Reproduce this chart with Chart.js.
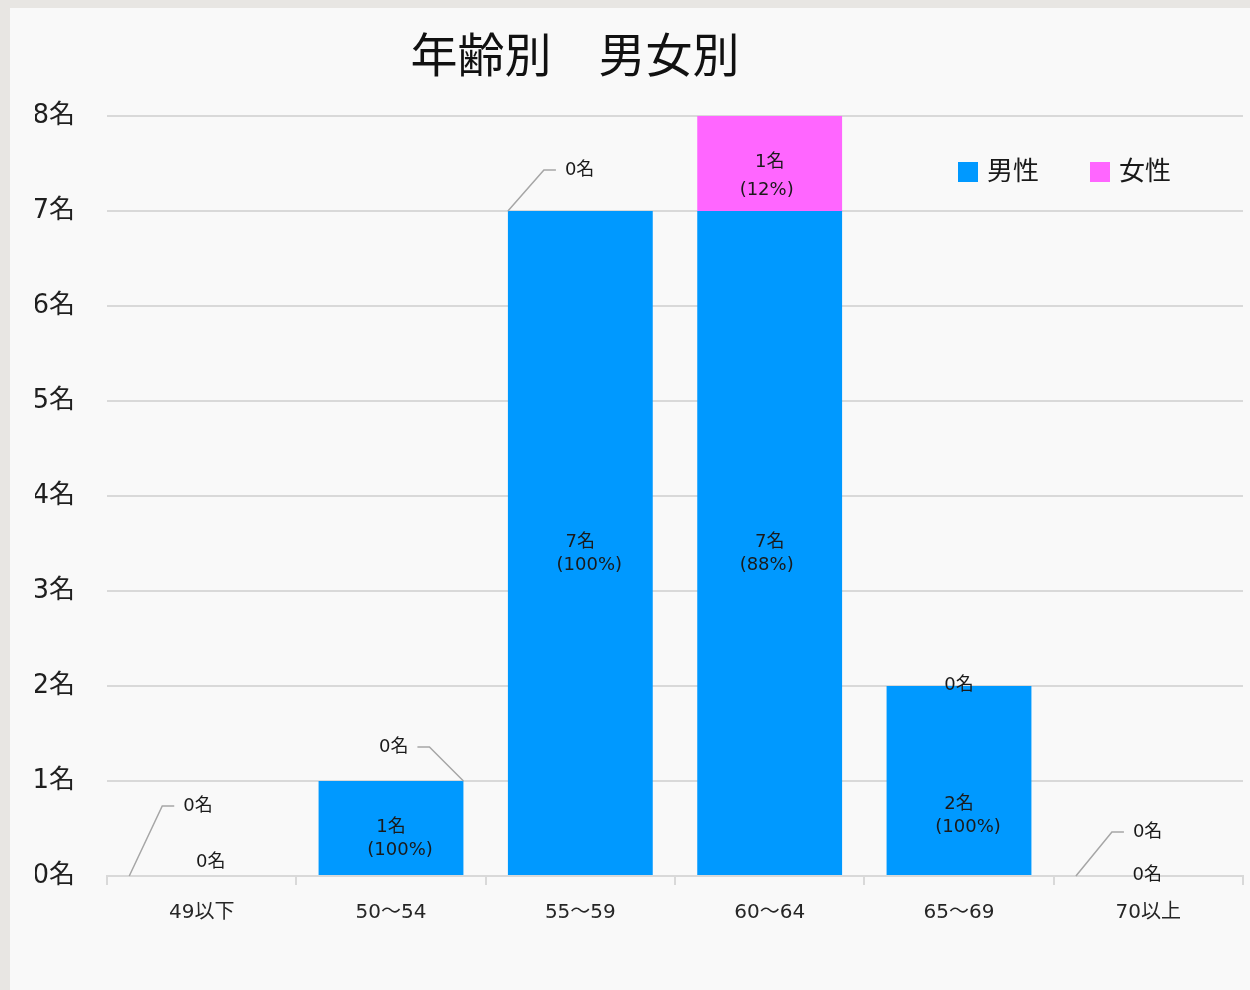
<!DOCTYPE html>
<html><head><meta charset="utf-8">
<script src="https://cdn.jsdelivr.net/npm/chart.js@4"></script>
<style>
html,body{margin:0;padding:0;width:1250px;height:990px;overflow:hidden;background:#e8e6e3;}
#card{position:absolute;left:10px;top:8px;width:1240px;height:982px;background:#f9f9f9;}
canvas{display:block;}
</style></head><body>
<div id="card"><canvas id="c" width="1240" height="982"></canvas></div>
<script>
// ---- data ----
const chartTitle = '年齢別　男女別';
const categories = ['49以下', '50～54', '55～59', '60～64', '65～69', '70以上'];
const seriesNames = ['男性', '女性'];
const maleValues = [0, 1, 7, 7, 2, 0];
const femaleValues = [0, 0, 0, 1, 0, 0];
const malePercent = [null, 100, 100, 88, 100, null];
const femalePercent = [null, null, null, 12, null, null];
const yTickValues = [0, 1, 2, 3, 4, 5, 6, 7, 8];
const unit = '名';

// ---- styles / label placement ----
const FONT = "'DejaVu Sans', 'Noto Sans CJK JP', sans-serif";
const TITLE_FONT = "'Noto Sans CJK JP', sans-serif";
const COLORS = { male: '#0099ff', female: '#ff66ff', grid: '#d9d9d9', text: '#1a1a1a', leader: '#a6a6a6' };
// placement of labels for zero values (offsets from bar corner/center)
const zeroPlacement = [
  [{ dx: 9, dy: -14 }, { anchor: 'left', dx: 33, dy: -70 }],
  [null, { anchor: 'right', dx: -34, dy: -34 }],
  [null, { anchor: 'left', dx: 36, dy: -41 }],
  [null, null],
  [null, { dx: 0, dy: -1 }],
  [{ dx: -1, dy: -1 }, { anchor: 'left', dx: 36, dy: -44 }]
];
const valueLabelNudge = [0, 0, 0, 0, 25, 0];

const labelPlugin = {
  id: 'valueLabels',
  afterDatasetsDraw(chart) {
    const ctx = chart.ctx;
    const values = [maleValues, femaleValues];
    const pcts = [malePercent, femalePercent];
    ctx.save();
    ctx.font = '18px ' + FONT;
    ctx.fillStyle = COLORS.text;
    ctx.textBaseline = 'middle';
    for (let d = 0; d < 2; d++) {
      const meta = chart.getDatasetMeta(d);
      meta.data.forEach((bar, i) => {
        const v = values[d][i];
        const txt = v + unit;
        if (v > 0) {
          const cy = (bar.y + bar.base) / 2 + (d === 0 ? valueLabelNudge[i] : 0);
          ctx.textAlign = 'center';
          ctx.fillText(txt, bar.x, cy - 1);
          const p = pcts[d][i];
          if (p !== null) ctx.fillText('(' + p + '%)', bar.x + (p === 100 ? 9 : -3), cy + (d === 1 ? 27 : 22));
        } else {
          const pl = zeroPlacement[i][d];
          if (!pl) return;
          if (pl.anchor) {
            const sx = pl.anchor === 'left' ? bar.x - bar.width / 2 : bar.x + bar.width / 2;
            const sy = bar.y;
            const ex = sx + pl.dx, ey = sy + pl.dy;
            const dir = pl.dx > 0 ? 1 : -1;
            const hx = ex + dir * 12;
            ctx.strokeStyle = COLORS.leader;
            ctx.lineWidth = 1.5;
            ctx.beginPath();
            ctx.moveTo(sx, sy); ctx.lineTo(ex, ey); ctx.lineTo(hx, ey);
            ctx.stroke();
            ctx.textAlign = dir > 0 ? 'left' : 'right';
            ctx.fillText(txt, hx + dir * 9, ey);
          } else {
            ctx.textAlign = 'center';
            ctx.fillText(txt, bar.x + pl.dx, bar.y + pl.dy);
          }
        }
      });
    }
    ctx.restore();
  }
};

const titleLegendPlugin = {
  id: 'titleLegend',
  afterDraw(chart) {
    const ctx = chart.ctx;
    ctx.save();
    ctx.font = '47px ' + TITLE_FONT;
    ctx.fillStyle = '#111111';
    ctx.textAlign = 'center';
    ctx.textBaseline = 'middle';
    ctx.fillText(chartTitle, 565, 46);
    // legend
    const items = chart.data.datasets.map(ds => ({ text: ds.label, color: ds.backgroundColor }));
    const lx = [948, 1080];
    ctx.font = '26px ' + FONT;
    ctx.textAlign = 'left';
    items.forEach((it, k) => {
      ctx.fillStyle = it.color;
      ctx.fillRect(lx[k], 154, 20, 20);
      ctx.fillStyle = COLORS.text;
      ctx.fillText(it.text, lx[k] + 29, 165);
    });
    ctx.restore();
  }
};

new Chart(document.getElementById('c'), {
  type: 'bar',
  data: {
    labels: categories,
    datasets: [
      { label: seriesNames[0], data: maleValues, backgroundColor: COLORS.male, barPercentage: 0.765, categoryPercentage: 1 },
      { label: seriesNames[1], data: femaleValues, backgroundColor: COLORS.female, barPercentage: 0.765, categoryPercentage: 1 }
    ]
  },
  options: {
    responsive: false,
    animation: false,
    devicePixelRatio: 1,
    layout: { padding: { left: 25, right: 7, top: 108, bottom: 64 } },
    scales: {
      x: {
        stacked: true,
        afterFit(axis) { axis.height = 50; },
        grid: { drawOnChartArea: false, drawTicks: true, tickLength: 9, color: COLORS.grid, lineWidth: 2, offset: true },
        border: { display: true, color: COLORS.grid, width: 2 },
        ticks: { padding: 16, color: '#262626', font: { size: 20, family: FONT } }
      },
      y: {
        stacked: true,
        min: 0, max: 8,
        afterFit(axis) { axis.width = 72; },
        afterBuildTicks(axis) { axis.ticks = yTickValues.map(v => ({ value: v })); },
        ticks: { padding: 32, color: '#1f1f1f', font: { size: 26, family: FONT }, callback: v => v + unit },
        grid: { color: COLORS.grid, lineWidth: 2, drawTicks: false },
        border: { display: false }
      }
    },
    plugins: {
      legend: { display: false },
      title: { display: false },
      tooltip: { enabled: false }
    }
  },
  plugins: [labelPlugin, titleLegendPlugin]
});
</script>
</body></html>
